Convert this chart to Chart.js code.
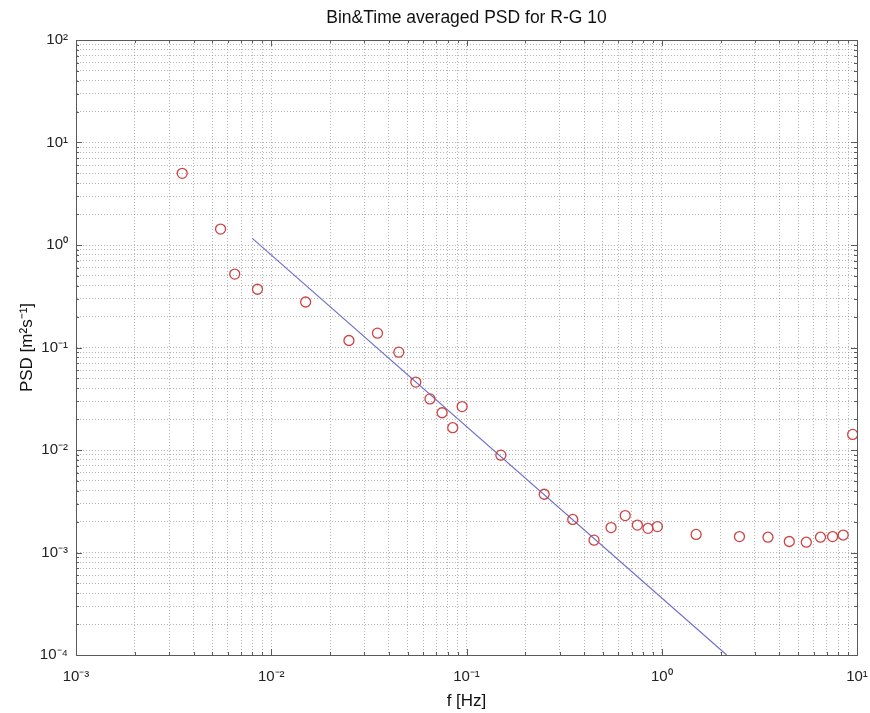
<!DOCTYPE html>
<html>
<head>
<meta charset="utf-8">
<script src="https://cdn.jsdelivr.net/npm/chart.js@4"></script>
<style>
  html, body { margin: 0; background: #fff; }
</style>
</head>
<body>
<canvas id="psdChart" width="870" height="713"></canvas>
<script>
// bin-averaged spectrum
const freq = [0.0035, 0.0055, 0.0065, 0.0085, 0.015, 0.025, 0.035, 0.045, 0.055, 0.065,
              0.075, 0.085, 0.095, 0.15, 0.25, 0.35, 0.45, 0.55, 0.65, 0.75,
              0.85, 0.95, 1.5, 2.5, 3.5, 4.5, 5.5, 6.5, 7.5, 8.5, 9.5];
const psd = [5.0, 1.43, 0.52, 0.37, 0.278, 0.117, 0.138, 0.090, 0.046, 0.0315,
             0.0231, 0.0165, 0.0265, 0.0089, 0.0037, 0.0021, 0.00132, 0.00175, 0.00229, 0.00185,
             0.00172, 0.00179, 0.0015, 0.00143, 0.00141, 0.00128, 0.00126, 0.00141, 0.00143, 0.00148, 0.0142];

// -5/3 reference slope
const fitFreq = [0.008, 2.15];
const fitPsd = [1.16, 1.0e-4];

const xDecades = [-3, -2, -1, 0, 1];
const yDecades = [-4, -3, -2, -1, 0, 1, 2];

const FONT = "'Liberation Sans', Arial, Helvetica, sans-serif";
const SUP = { '-': '\u207B', '0': '\u2070', '1': '\u00B9', '2': '\u00B2', '3': '\u00B3', '4': '\u2074' };

function decadeTicks(decades) {
  const ticks = [];
  decades.forEach((d, i) => {
    for (let m = 1; m <= 9; m++) {
      if (i === decades.length - 1 && m > 1) break;
      ticks.push({ value: m * Math.pow(10, d), major: m === 1 });
    }
  });
  return ticks;
}

function powerLabel(value) {
  const e = Math.log10(value);
  if (Math.abs(e - Math.round(e)) > 1e-9) return '';
  return '10' + String(Math.round(e)).split('').map(c => SUP[c]).join('');
}

// MATLAB style closed box with inward tick marks
Chart.register({
  id: 'matlabBox',
  afterDraw(chart) {
    const { ctx, chartArea: a, scales: { x, y } } = chart;
    ctx.save();
    ctx.strokeStyle = '#5a5a5a';
    ctx.lineWidth = 1;
    ctx.strokeRect(Math.round(a.left) + 0.5, Math.round(a.top) + 0.5,
      Math.round(a.right - a.left), Math.round(a.bottom - a.top));
    ctx.beginPath();
    x.ticks.forEach(t => {
      const px = Math.round(x.getPixelForValue(t.value)) + 0.5;
      const len = t.major ? 6 : 3;
      ctx.moveTo(px, a.bottom); ctx.lineTo(px, a.bottom - len);
      ctx.moveTo(px, a.top); ctx.lineTo(px, a.top + len);
    });
    y.ticks.forEach(t => {
      const py = Math.round(y.getPixelForValue(t.value)) + 0.5;
      const len = t.major ? 6 : 3;
      ctx.moveTo(a.left, py); ctx.lineTo(a.left + len, py);
      ctx.moveTo(a.right, py); ctx.lineTo(a.right - len, py);
    });
    ctx.stroke();
    ctx.restore();
  }
});

const gridStyle = {
  color: 'rgba(90,90,90,0.45)',
  lineWidth: 1,
  drawTicks: false
};

new Chart(document.getElementById('psdChart'), {
  type: 'scatter',
  data: {
    datasets: [{
      label: 'PSD',
      data: freq.map((f, i) => ({ x: f, y: psd[i] })),
      showLine: false,
      pointStyle: 'circle',
      pointRadius: 5,
      borderColor: 'rgb(208,66,66)',
      backgroundColor: 'rgba(0,0,0,0)',
      borderWidth: 1.3
    }, {
      label: 'fit',
      data: fitFreq.map((f, i) => ({ x: f, y: fitPsd[i] })),
      showLine: true,
      pointRadius: 0,
      borderColor: 'rgb(110,110,205)',
      borderWidth: 1.2
    }]
  },
  options: {
    responsive: false,
    animation: false,
    layout: { padding: { left: 0, right: 0, top: 0, bottom: 0 } },
    plugins: {
      legend: { display: false },
      tooltip: { enabled: false }
    },
    scales: {
      // top axis only carries the title, centred over the plot box
      x2: {
        type: 'logarithmic',
        position: 'top',
        min: 1e-3,
        max: 10,
        afterFit: axis => { axis.height = 40; axis.paddingLeft = 0; axis.paddingRight = 0; },
        grid: { display: false, drawTicks: false },
        border: { display: false },
        ticks: { display: false },
        title: {
          display: true,
          text: 'Bin&Time averaged PSD for R-G 10',
          color: '#111',
          font: { family: FONT, size: 17.5 },
          padding: { top: 8, bottom: 0 }
        }
      },
      x: {
        type: 'logarithmic',
        min: 1e-3,
        max: 10,
        afterBuildTicks: axis => { axis.ticks = decadeTicks(xDecades); },
        afterFit: axis => { axis.height = 58; axis.paddingLeft = 0; axis.paddingRight = 13; },
        grid: gridStyle,
        border: { display: true, color: '#5a5a5a', dash: [1, 2] },
        ticks: {
          autoSkip: false,
          maxRotation: 0,
          padding: 13,
          color: '#222',
          font: { family: FONT, size: 15 },
          callback: v => powerLabel(v)
        },
        title: {
          display: true,
          text: 'f [Hz]',
          color: '#111',
          font: { family: FONT, size: 17 },
          padding: { top: 0, bottom: 1 }
        }
      },
      y: {
        type: 'logarithmic',
        min: 1e-4,
        max: 100,
        afterBuildTicks: axis => { axis.ticks = decadeTicks(yDecades); },
        afterFit: axis => { axis.width = 76; axis.paddingTop = 0; axis.paddingBottom = 0; },
        grid: gridStyle,
        border: { display: true, color: '#5a5a5a', dash: [1, 2] },
        ticks: {
          autoSkip: false,
          padding: 8,
          color: '#222',
          font: { family: FONT, size: 15 },
          callback: v => powerLabel(v)
        },
        title: {
          display: true,
          text: 'PSD [m\u00B2s\u207B\u00B9]',
          color: '#111',
          font: { family: FONT, size: 17 },
          padding: { top: 17, bottom: 0 }
        }
      }
    }
  }
});
</script>
</body>
</html>
